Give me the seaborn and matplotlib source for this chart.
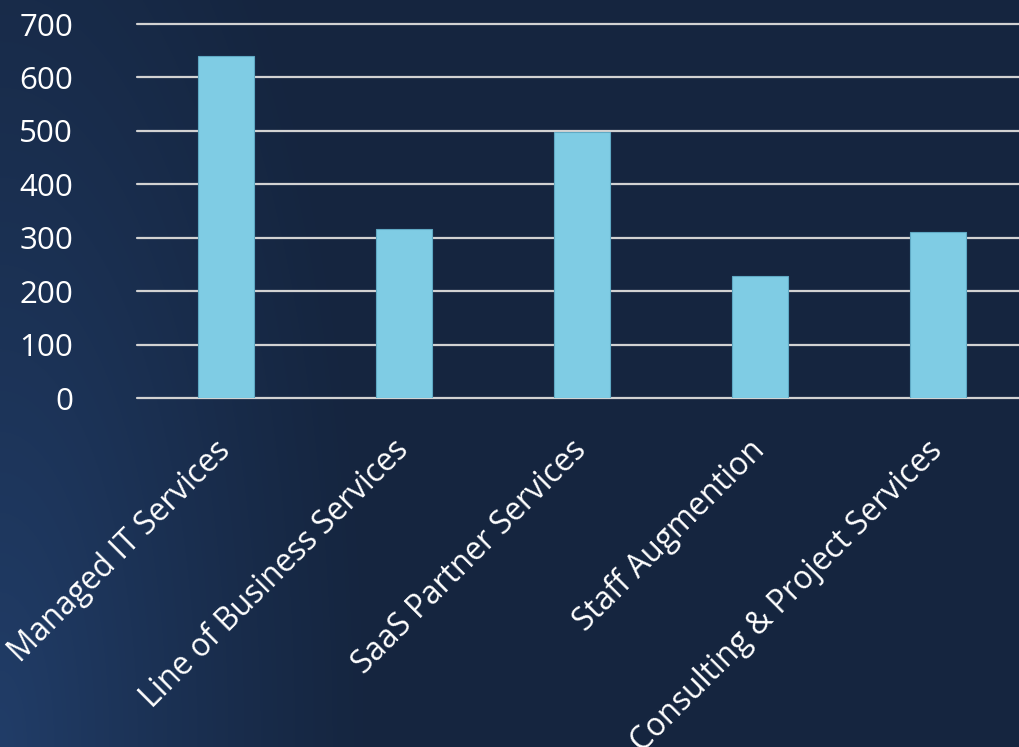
import numpy as np
import pandas as pd
import matplotlib
matplotlib.use("Agg")
import matplotlib.pyplot as plt
from matplotlib.colors import to_rgb
import seaborn as sns

# Service lines and their counts
categories = [
    "Managed IT Services",
    "Line of Business Services",
    "SaaS Partner Services",
    "Staff Augmention",
    "Consulting & Project Services",
]
counts = [641, 316, 498, 229, 311]
y_ticks = [0, 100, 200, 300, 400, 500, 600, 700]

df = pd.DataFrame({"category": categories, "count": counts})

sns.set_theme(style="white")
plt.rcParams["font.family"] = ["Open Sans", "DejaVu Sans"]

W, H = 1020, 747
fig = plt.figure(figsize=(W / 100, H / 100), dpi=100)

# Navy background, lighter toward the lower-left corner
bg_ax = fig.add_axes([0, 0, 1, 1], zorder=-10)
yy, xx = np.mgrid[0:H, 0:W]
dist = np.sqrt((xx / 380.0) ** 2 + ((H - yy) / 1100.0) ** 2)
t = np.clip(1.0 - dist, 0, 1) ** 1.2
dark = np.array(to_rgb("#15253f"))
light = np.array(to_rgb("#213d68"))
img = dark[None, None, :] * (1 - t[..., None]) + light[None, None, :] * t[..., None]
bg_ax.imshow(img, aspect="auto", extent=[0, W, H, 0])
bg_ax.set_axis_off()

left_px, right_px = 137, 1027
bottom_px, top_px = 398.3, 24
ax = fig.add_axes([
    left_px / W,
    1 - bottom_px / H,
    (right_px - left_px) / W,
    (bottom_px - top_px) / H,
])
ax.patch.set_alpha(0)

sns.barplot(
    data=df, x="category", y="count", ax=ax,
    color="#7fcce4", width=0.315, saturation=1,
    edgecolor="#5fa9c4", linewidth=0.8, zorder=3,
)

ax.set_ylim(0, 700)
ax.set_yticks(y_ticks)
ax.set_xlim(-0.5, len(categories) - 0.5)
ax.set_xlabel("")
ax.set_ylabel("")
for s in ax.spines.values():
    s.set_visible(False)

ax.yaxis.grid(True, color="#d2d2d2", linewidth=1.6, zorder=0)
ax.set_axisbelow(True)
for gl in ax.get_ygridlines():
    gl.set_clip_on(False)

ax.tick_params(axis="y", length=0, pad=46, labelsize=22.5, labelcolor="white")
ax.tick_params(axis="x", length=0, pad=34, labelsize=22.7, labelcolor="white")
plt.setp(ax.get_xticklabels(), rotation=45, ha="right", va="center",
         rotation_mode="anchor")

fig.savefig("out.png", dpi=100)
